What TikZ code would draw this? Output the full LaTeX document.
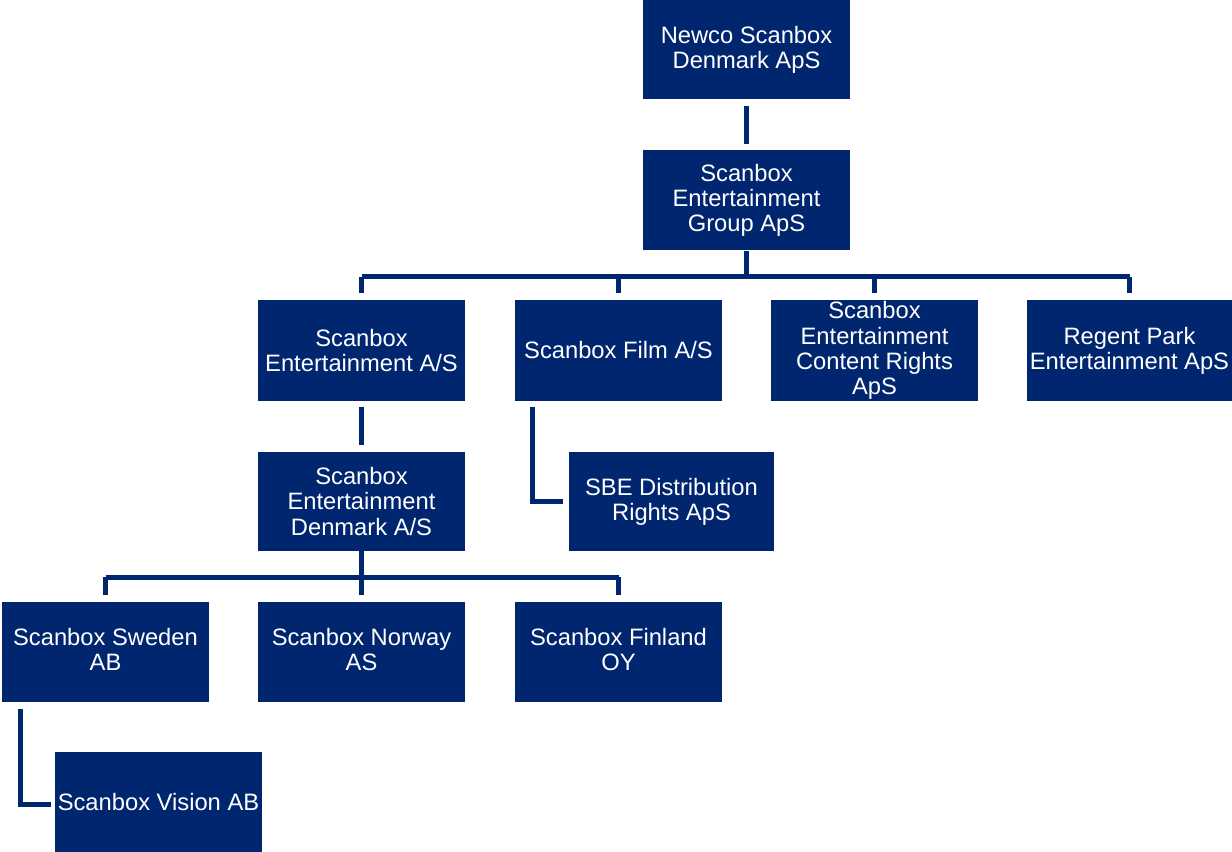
\documentclass[tikz,border=0pt]{standalone}
\usepackage{fontspec}
\setmainfont{Liberation Sans}
\definecolor{navy}{RGB}{0,38,112}
\begin{document}
\begin{tikzpicture}[x=0.75pt,y=-0.75pt,
  box/.style={fill=navy,draw=none,text=white,align=center,inner sep=0pt,
    minimum width=155.25pt,minimum height=75pt,
    font=\fontsize{17.8}{18.9}\selectfont},
  conn/.style={draw=navy,line width=3.75pt,line join=miter}]
\useasboundingbox[fill=white] (0,0) rectangle (1232,852);
\node[box] (newco) at (746.5,49.5) {Newco Scanbox\\Denmark ApS};
\node[box] (group) at (746.5,200.5) {Scanbox\\Entertainment\\Group ApS};
\node[box] (ent) at (361.5,350.5) {Scanbox\\Entertainment A/S};
\node[box] (film) at (618.5,350.5) {Scanbox Film A/S};
\node[box] (content) at (874.5,350.5) {Scanbox\\Entertainment\\Content Rights\\ApS};
\node[box,minimum width=153.75pt] (regent) at (1129.5,350.5) {Regent Park\\Entertainment ApS};
\node[box,minimum height=74.25pt] (denmark) at (361.5,501.5) {Scanbox\\Entertainment\\Denmark A/S};
\node[box,minimum width=153.75pt,minimum height=74.25pt] (sbe) at (671.5,501.5) {SBE Distribution\\Rights ApS};
\node[box] (sweden) at (105.5,652) {Scanbox Sweden\\AB\vphantom{g}};
\node[box] (norway) at (361.5,652) {Scanbox Norway\\AS\vphantom{g}};
\node[box] (finland) at (618.5,652) {Scanbox Finland\\OY\vphantom{g}};
\node[box] (vision) at (158.5,802) {Scanbox Vision AB};
% connectors
\draw[conn,shorten <=5pt,shorten >=4.5pt] (newco.south) -- (group.north);
\coordinate (bus1) at ([yshift=-19.5pt]group.south);
\draw[conn] (group.south) -- (bus1);
\draw[conn,shorten >=5.25pt] (ent.north |- bus1) -- (ent.north);
\draw[conn,shorten >=5.25pt] (film.north |- bus1) -- (film.north);
\draw[conn,shorten >=5.25pt] (content.north |- bus1) -- (content.north);
\draw[conn,shorten >=5.25pt] (regent.north |- bus1) -- (regent.north);
\draw[conn] (ent.north |- bus1) -- (regent.north |- bus1);
\draw[conn,shorten <=4.5pt,shorten >=5pt] (ent.south) -- (denmark.north);
\draw[conn,shorten <=4.5pt,shorten >=4.5pt] ([xshift=13.5pt]film.south west) |- (sbe.west);
\coordinate (bus2) at ([yshift=-19.5pt]denmark.south);
\draw[conn] (denmark.south) -- (bus2);
\draw[conn,shorten >=5.25pt] (sweden.north |- bus2) -- (sweden.north);
\draw[conn,shorten >=5.25pt] (norway.north |- bus2) -- (norway.north);
\draw[conn,shorten >=5.25pt] (finland.north |- bus2) -- (finland.north);
\draw[conn] (sweden.north |- bus2) -- (finland.north |- bus2);
\draw[conn,shorten <=5pt,shorten >=2.5pt] ([xshift=14.25pt]sweden.south west) |- ([yshift=-2pt]vision.west);
\end{tikzpicture}
\end{document}
